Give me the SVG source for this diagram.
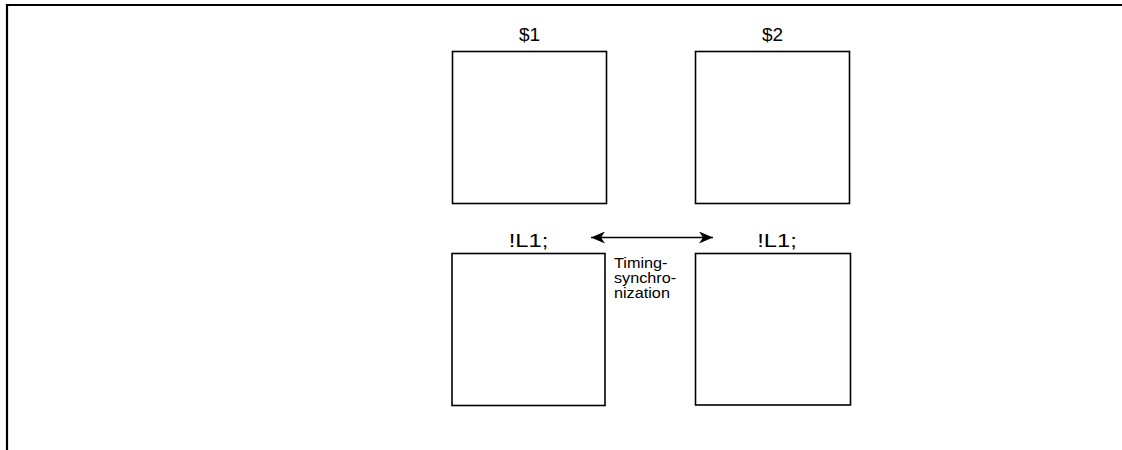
<svg xmlns="http://www.w3.org/2000/svg" width="1122" height="450" viewBox="0 0 1122 450">
<style>
.box{fill:#fff;stroke:#000;stroke-width:1.6}
.lbl{font-family:"Liberation Sans",Arial,sans-serif;fill:#000;text-anchor:middle}
.top{font-size:19px}
.bot{font-size:19px}
.note{font-family:"Liberation Sans",Arial,sans-serif;font-size:14.5px;fill:#000}
.frame{fill:none;stroke:#000;stroke-width:2.2}
.conn{stroke:#000;stroke-width:1.3;fill:none}
</style>
<defs>
<marker id="ah" markerWidth="15" markerHeight="12" refX="14" refY="6" orient="auto-start-reverse" markerUnits="userSpaceOnUse">
<path d="M0,0 L14,6 L0,12 L4,6 Z" fill="#000"/>
</marker>
</defs>
<rect width="1122" height="450" fill="#fff"/>
<path class="frame" d="M7,450 V5 H1122"/>
<g id="n1">
<rect class="box" x="452.5" y="51.5" width="154" height="152"/>
<text class="lbl top" x="529.5" y="41">$1</text>
</g>
<g id="n2">
<rect class="box" x="695.5" y="51.5" width="154" height="152"/>
<text class="lbl top" x="772.5" y="41">$2</text>
</g>
<g id="n3">
<rect class="box" x="452" y="253.5" width="153" height="152"/>
<text class="lbl bot" transform="translate(528.5,247) scale(1.25,1)">!L1;</text>
</g>
<g id="n4">
<rect class="box" x="695.5" y="253.5" width="155" height="151.5"/>
<text class="lbl bot" transform="translate(777,247) scale(1.25,1)">!L1;</text>
</g>
<g id="connectors">
<line class="conn" x1="591" y1="237.5" x2="713" y2="237.5" marker-start="url(#ah)" marker-end="url(#ah)"/>
</g>
<g id="label" transform="translate(614,0) scale(1.12,1)">
<text class="note" x="0" y="268">Timing-</text>
<text class="note" x="0" y="283">synchro-</text>
<text class="note" x="0" y="298">nization</text>
</g>
</svg>
